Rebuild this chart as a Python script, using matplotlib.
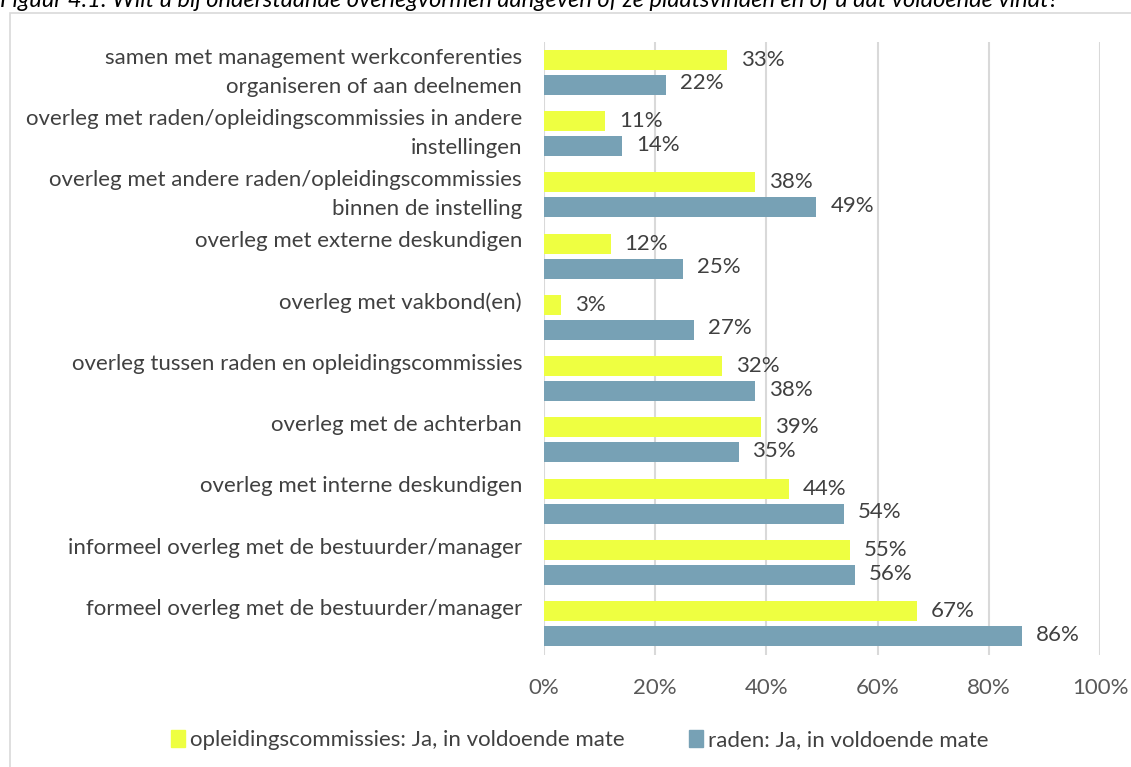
import matplotlib
matplotlib.use("Agg")
import matplotlib.pyplot as plt
import matplotlib.transforms as mtransforms
from matplotlib.patches import Rectangle, Patch
import numpy as np

categories = [
    "samen met management werkconferenties\norganiseren of aan deelnemen",
    "overleg met raden/opleidingscommissies in andere\ninstellingen",
    "overleg met andere raden/opleidingscommissies\nbinnen de instelling",
    "overleg met externe deskundigen",
    "overleg met vakbond(en)",
    "overleg tussen raden en opleidingscommissies",
    "overleg met de achterban",
    "overleg met interne deskundigen",
    "informeel overleg met de bestuurder/manager",
    "formeel overleg met de bestuurder/manager",
]
opleidingscommissies = [33, 11, 38, 12, 3, 32, 39, 44, 55, 67]
raden = [22, 14, 49, 25, 27, 38, 35, 54, 56, 86]
series_names = ["opleidingscommissies: Ja, in voldoende mate", "raden: Ja, in voldoende mate"]
xticks = [0, 20, 40, 60, 80, 100]
title = "Figuur 4.1: Wilt u bij onderstaande overlegvormen aangeven of ze plaatsvinden en of u dat voldoende vindt?"

YELLOW = "#EEFF41"
BLUE = "#77A1B5"
TXT = "#404040"
GRID = "#D9D9D9"
FONT = "Lato"
FS = 16

W, H = 1131, 767
fig = plt.figure(figsize=(W / 100, H / 100), dpi=100)
plt.rcParams["font.family"] = [FONT, "DejaVu Sans"]

# outer frame
fig.patches.append(Rectangle((9.5 / W, -0.05), 1.2, 1 - 13 / H + 0.05, transform=fig.transFigure,
                             fill=False, edgecolor=GRID, linewidth=1.2))
fig.text(0, 1 - 7 / H, title, fontsize=17, style="italic", color="black", va="baseline", ha="left")

ax = fig.add_axes([544 / W, 1 - 654.5 / H, (1100 - 544) / W, (654.5 - 41.5) / H])
n = len(categories)
y = np.arange(n)
bh = 20 / 61.3
off = 12.5 / 61.3
ax.barh(y - off, opleidingscommissies, height=bh, color=YELLOW, zorder=3, label=series_names[0])
ax.barh(y + off, raden, height=bh, color=BLUE, zorder=3, label=series_names[1])
ax.set_ylim(n - 0.5, -0.5)
ax.set_xlim(0, 100)
ax.set_xticks(xticks)
ax.set_xticklabels([f"{t}%" for t in xticks], fontsize=FS, color="#595959")
ax.tick_params(axis="x", length=0, pad=17)
ax.set_yticks([])
for s in ax.spines.values():
    s.set_visible(False)
ax.grid(axis="x", color=GRID, linewidth=1.5, zorder=0)
ax.set_axisbelow(True)

for i in range(n):
    ax.annotate(f"{opleidingscommissies[i]}%", (opleidingscommissies[i], y[i] - off), xytext=(10, 0),
                textcoords="offset points", va="center", ha="left", fontsize=FS, color=TXT)
    ax.annotate(f"{raden[i]}%", (raden[i], y[i] + off), xytext=(10, 1),
                textcoords="offset points", va="center", ha="left", fontsize=FS, color=TXT)

# category labels
for i, c in enumerate(categories):
    single = "\n" not in c
    tr = ax.get_yaxis_transform() + mtransforms.ScaledTranslation(-22 / 100, (15 / 100) if single else 0, fig.dpi_scale_trans)
    ax.text(0, y[i], c, transform=tr, ha="right", va="center", multialignment="right",
            fontsize=FS, color=TXT, linespacing=1.55)

handles = [Patch(color=YELLOW), Patch(color=BLUE)]
fig.legend(handles, series_names, loc="center", bbox_to_anchor=(580 / W, 1 - 740 / H), ncol=2,
           frameon=False, fontsize=FS, handlelength=0.6, handleheight=0.8, handletextpad=0.25,
           columnspacing=2.9, labelcolor=TXT)

fig.savefig("out.png", dpi=100)
